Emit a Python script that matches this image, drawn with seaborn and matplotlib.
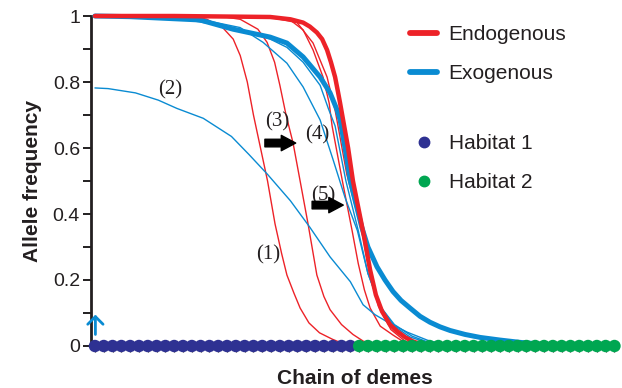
import numpy as np
import pandas as pd
import matplotlib
matplotlib.use("Agg")
import matplotlib.pyplot as plt
import seaborn as sns
from matplotlib.lines import Line2D

# ---------------- data ----------------
demes = list(range(1, 61))
habitats = ["Habitat 1"] * 30 + ["Habitat 2"] * 30

# thick endogenous (red) curve
endo_x = [1, 10, 20.9, 23.2, 24.64, 25.4, 26.2, 26.8, 27.36, 27.8, 28.27, 28.6, 28.84, 29.18, 29.75, 30.3, 30.9,
          31.57, 32.25, 32.9, 33.6, 34.5, 35.3, 36.2, 37.1, 38.2, 39.05]
endo_y = [1.0, 1.0, 0.997, 0.99, 0.98, 0.968, 0.95, 0.93, 0.897, 0.86, 0.815, 0.77, 0.736, 0.685, 0.6, 0.5, 0.42,
          0.33, 0.23, 0.155, 0.105, 0.065, 0.045, 0.027, 0.014, 0.004, 0.0]

# thick exogenous (blue) curve
exo_x = [1, 5, 12.93, 16.68, 20.9, 22.8, 24.64, 26.57, 27.7, 28.5, 28.84, 29.4, 30.0, 30.65, 31.3, 32.0, 33.03,
         33.94, 34.85, 35.76, 36.78, 37.92, 39.05, 40.19, 41.33, 43.03, 44.74, 47.0, 49.27, 51.54, 53.82, 56.09]
exo_y = [1.0, 0.998, 0.988, 0.96, 0.936, 0.918, 0.876, 0.815, 0.767, 0.715, 0.685, 0.6, 0.5, 0.43, 0.36, 0.3, 0.24,
         0.2, 0.165, 0.138, 0.115, 0.09, 0.072, 0.058, 0.047, 0.035, 0.026, 0.018, 0.011, 0.006, 0.003, 0.0]

# thin endogenous snapshots
r1_x = [1, 12, 13.7, 15.5, 16.7, 17.5, 18.3, 19.0, 19.8, 20.6, 21.45, 22.2, 22.8, 23.6, 24.3, 25.3, 26.5, 28.0, 29.4, 30.0]
r1_y = [1.0, 1.0, 0.99, 0.965, 0.93, 0.88, 0.8, 0.7, 0.6, 0.5, 0.37, 0.28, 0.215, 0.16, 0.115, 0.07, 0.04, 0.02, 0.005, 0.0]

r3_x = [1, 15, 17.5, 19.5, 20.55, 21.4, 22.0, 22.7, 23.5, 24.3, 25.2, 26.2, 27.0, 27.7, 29.0, 30.3, 31.45, 32.8]
r3_y = [1.0, 1.0, 0.99, 0.96, 0.92, 0.86, 0.79, 0.7, 0.615, 0.5, 0.37, 0.215, 0.15, 0.11, 0.065, 0.035, 0.015, 0.0]

r4_x = [1, 20, 23.16, 24.64, 25.77, 26.9, 27.6, 27.93, 29.1, 30.2, 30.9, 31.6, 32.25, 33.4, 34.86, 36.2, 37.4]
r4_y = [1.0, 1.0, 0.988, 0.958, 0.897, 0.815, 0.736, 0.667, 0.5, 0.35, 0.25, 0.17, 0.115, 0.06, 0.033, 0.01, 0.0]

r5_x = [1, 20, 23.95, 25.77, 27.36, 28.27, 28.6, 29.6, 31.3, 32.2, 33.2, 34.6, 36.2, 38.0]
r5_y = [1.0, 1.0, 0.98, 0.918, 0.815, 0.715, 0.667, 0.52, 0.35, 0.22, 0.12, 0.05, 0.015, 0.0]

# thin exogenous snapshots
b2_x = [1, 2.5, 5.6, 8.2, 10.3, 13.3, 16.5, 18.5, 20.6, 23.2, 25.4, 27.7, 30.0, 31.45, 32.8, 34.2, 36.45, 39.0, 42.0]
b2_y = [0.782, 0.78, 0.767, 0.745, 0.72, 0.69, 0.635, 0.58, 0.52, 0.44, 0.36, 0.27, 0.195, 0.125, 0.095, 0.073, 0.042, 0.015, 0.0]

b4_x = [1, 12.93, 17.48, 20.1, 22.8, 24.64, 26.57, 28.05, 29.4, 30.8, 32.0, 33.4, 35.0, 37.0, 39.0, 41.0]
b4_y = [1.0, 0.99, 0.965, 0.92, 0.857, 0.785, 0.685, 0.564, 0.45, 0.35, 0.22, 0.12, 0.065, 0.03, 0.01, 0.0]

b5_x = [1, 10, 16.7, 20.9, 22.8, 24.64, 26.57, 27.5, 28.27, 29.5, 30.9, 32.0, 33.4, 35.0, 36.8, 39.0, 41.0]
b5_y = [1.0, 0.995, 0.965, 0.93, 0.905, 0.86, 0.79, 0.72, 0.667, 0.5, 0.35, 0.22, 0.12, 0.06, 0.027, 0.008, 0.0]

# labels for the snapshots
snap_labels = ["(1)", "(2)", "(3)", "(4)", "(5)"]
snap_label_x = [20.66, 9.5, 21.7, 26.3, 26.9]
snap_label_y = [0.277, 0.775, 0.678, 0.64, 0.456]

legend_labels = ["Endogenous", "Exogenous", "Habitat 1", "Habitat 2"]
ytick_vals = [0, 0.2, 0.4, 0.6, 0.8, 1.0]
ytick_labels = ["0", "0.2", "0.4", "0.6", "0.8", "1"]

# ---------------- style ----------------
RED = "#ED2228"
BLUE = "#0A8BD2"
HAB1 = "#2E3192"
HAB2 = "#00A651"
INK = "#231F20"

sns.set_style("ticks")
plt.rcParams["font.family"] = ["Liberation Sans", "DejaVu Sans"]

fig = plt.figure(figsize=(6.22, 3.88), dpi=100)
ax = fig.add_axes([91 / 622, 1 - 346 / 388, 527 / 622, 330 / 388])

thin_curves = [
    (r1_x, r1_y, RED), (r3_x, r3_y, RED), (r4_x, r4_y, RED), (r5_x, r5_y, RED),
    (b2_x, b2_y, BLUE), (b4_x, b4_y, BLUE), (b5_x, b5_y, BLUE),
]
for cx, cy, col in thin_curves:
    sns.lineplot(x=cx, y=cy, ax=ax, color=col, lw=1.0, sort=False,
                 estimator=None, clip_on=False, zorder=3)

sns.lineplot(x=exo_x, y=exo_y, ax=ax, color=BLUE, lw=3.6, sort=False,
             estimator=None, clip_on=False, zorder=4)
sns.lineplot(x=endo_x, y=endo_y, ax=ax, color=RED, lw=3.2, sort=False,
             estimator=None, clip_on=False, zorder=5)

dots = pd.DataFrame({"deme": demes, "freq": [0.0] * len(demes), "habitat": habitats})
sns.scatterplot(data=dots, x="deme", y="freq", hue="habitat",
                palette={"Habitat 1": HAB1, "Habitat 2": HAB2}, s=80,
                linewidth=0, legend=False, ax=ax, clip_on=False, zorder=6)

# snapshot labels
for t, lx, ly in zip(snap_labels, snap_label_x, snap_label_y):
    ax.text(lx, ly, t, family=["Liberation Serif", "DejaVu Serif"], fontsize=15,
            color=INK, ha="center", va="center", zorder=7)

# black arrows
arrow_style = "simple,head_width=0.85,head_length=0.8,tail_width=0.42"
ax.annotate("", xy=(23.8, 0.615), xytext=(20.3, 0.615),
            arrowprops=dict(arrowstyle=arrow_style, fc="black", ec="black",
                            mutation_scale=13, shrinkA=0, shrinkB=0), zorder=8)
ax.annotate("", xy=(29.2, 0.427), xytext=(25.66, 0.427),
            arrowprops=dict(arrowstyle=arrow_style, fc="black", ec="black",
                            mutation_scale=13, shrinkA=0, shrinkB=0), zorder=8)
# small blue arrow at the first deme
ax.annotate("", xy=(1.05, 0.095), xytext=(1.05, 0.035),
            arrowprops=dict(arrowstyle="->,head_width=0.55,head_length=0.55",
                            color=BLUE, lw=2.0, shrinkA=0, shrinkB=0), zorder=8,
            annotation_clip=False)

# axes
ax.set_xlim(0.55, 60.4)
ax.set_ylim(0, 1)
ax.set_yticks(ytick_vals)
ax.set_yticklabels(ytick_labels)
ax.set_yticks([0.1, 0.3, 0.5, 0.7, 0.9], minor=True)
ax.set_xticks(demes)
ax.set_xticklabels([])
ax.tick_params(axis="y", which="both", direction="out", length=6, width=1.4,
               color=INK, labelsize=14, labelcolor=INK, pad=2)
ax.tick_params(axis="x", which="major", direction="out", length=4, width=0.9,
               color=INK)
for side in ["top", "right", "bottom"]:
    ax.spines[side].set_visible(False)
ax.spines["left"].set_linewidth(2.0)
ax.spines["left"].set_color(INK)

ax.set_xlabel("Chain of demes", fontsize=15, fontweight="bold", color=INK, labelpad=9)
ax.set_ylabel("Allele frequency", fontsize=15, fontweight="bold", color=INK, labelpad=8)

# legends
line_handles = [Line2D([0], [0], color=RED, lw=4.2), Line2D([0], [0], color=BLUE, lw=4.2)]
dot_handles = [Line2D([0], [0], marker="o", ls="", color=HAB1, markersize=7.5),
               Line2D([0], [0], marker="o", ls="", color=HAB2, markersize=7.5)]
leg1 = fig.legend(line_handles, legend_labels[:2], loc="upper left",
                  bbox_to_anchor=(410 / 622, 1 - 25 / 388), frameon=False,
                  fontsize=15, handlelength=1.3, handletextpad=0.55,
                  labelspacing=0.98, borderpad=0, borderaxespad=0)
leg2 = fig.legend(dot_handles, legend_labels[2:], loc="upper left",
                  bbox_to_anchor=(410 / 622, 1 - 134 / 388), frameon=False,
                  fontsize=15, handlelength=1.3, handletextpad=0.55,
                  labelspacing=0.98, borderpad=0, borderaxespad=0)
for lg in (leg1, leg2):
    for txt in lg.get_texts():
        txt.set_color(INK)

fig.savefig("out.png", dpi=100)
